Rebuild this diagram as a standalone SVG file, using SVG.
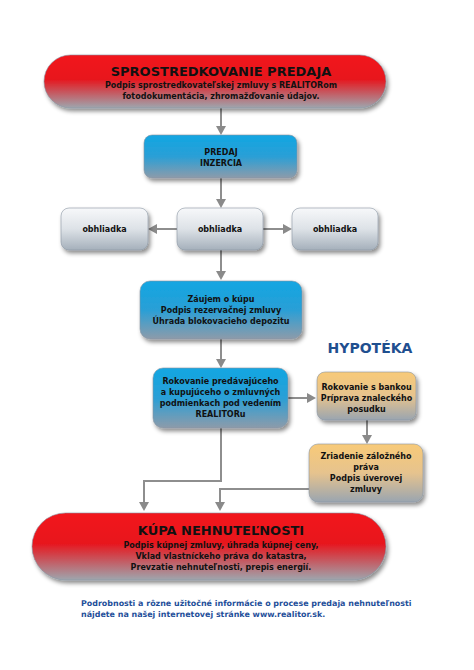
<svg xmlns="http://www.w3.org/2000/svg" width="474" height="670" viewBox="0 0 474 670">
<defs>
<linearGradient id="gRed" x1="0" y1="0" x2="0" y2="1">
<stop offset="0" stop-color="#f2131b"/><stop offset="0.45" stop-color="#e8141c"/><stop offset="1" stop-color="#9ea6ae"/>
</linearGradient>
<linearGradient id="gBlue" x1="0" y1="0" x2="0" y2="1">
<stop offset="0" stop-color="#12a6e2"/><stop offset="0.5" stop-color="#2a9fd6"/><stop offset="1" stop-color="#8d9baa"/>
</linearGradient>
<linearGradient id="gGrey" x1="0" y1="0" x2="0" y2="1">
<stop offset="0" stop-color="#f7f8fa"/><stop offset="0.5" stop-color="#dde2e7"/><stop offset="1" stop-color="#a5b0bb"/>
</linearGradient>
<linearGradient id="gOrange" x1="0" y1="0" x2="0" y2="1">
<stop offset="0" stop-color="#f8ca78"/><stop offset="0.5" stop-color="#e6c38e"/><stop offset="1" stop-color="#9aa5b0"/>
</linearGradient>
<filter id="sh" x="-10%" y="-20%" width="125%" height="150%">
<feDropShadow dx="2" dy="3" stdDeviation="2" flood-color="#000" flood-opacity="0.45"/>
</filter>
<style>
.t{font-family:"DejaVu Sans",Verdana,sans-serif;font-weight:bold;fill:#111;text-anchor:middle}
.s{font-size:8px}
.big{font-size:13px}
.c{fill:none;stroke:#8e8e8e;stroke-width:2}
.ah{fill:#8a8a8a}
.box{stroke:#8a96a2;stroke-width:0.6;filter:url(#sh)}
.ft{font-family:"DejaVu Sans",Verdana,sans-serif;font-weight:bold;fill:#1f4f9a;font-size:7.95px}
</style>
</defs>
<rect width="474" height="670" fill="#fff"/>
<g id="connectors">
<line class="c" x1="221" y1="108" x2="221" y2="127"/>
<path class="ah" d="M216,126 L226,126 L221,135 z"/>
<line class="c" x1="221" y1="178" x2="221" y2="200"/>
<path class="ah" d="M216,199 L226,199 L221,208 z"/>
<line class="c" x1="177" y1="229" x2="156" y2="229"/>
<path class="ah" d="M157,224 L157,234 L148,229 z"/>
<line class="c" x1="263" y1="229" x2="284" y2="229"/>
<path class="ah" d="M283,224 L283,234 L292,229 z"/>
<line class="c" x1="221" y1="250" x2="221" y2="272"/>
<path class="ah" d="M216,271 L226,271 L221,280 z"/>
<line class="c" x1="221" y1="339" x2="221" y2="360"/>
<path class="ah" d="M216,359 L226,359 L221,368 z"/>
<line class="c" x1="288" y1="398" x2="308" y2="398"/>
<path class="ah" d="M307,393 L307,403 L316,398 z"/>
<line class="c" x1="367" y1="420" x2="367" y2="436"/>
<path class="ah" d="M362,435 L372,435 L367,444 z"/>
<polyline class="c" points="221,428 221,481 144,481 144,503"/>
<path class="ah" d="M139,502 L149,502 L144,511 z"/>
<polyline class="c" points="310,489 220,489 220,503"/>
<path class="ah" d="M215,502 L225,502 L220,511 z"/>
</g>
<g id="node-sprostredkovanie">
<rect class="box" x="44" y="55" width="342" height="53" rx="26.5" fill="url(#gRed)"/>
<text class="t big" x="221" y="76">SPROSTREDKOVANIE PREDAJA</text>
<text class="t s" x="221" y="88">Podpis sprostredkovateľskej zmluvy s REALITORom</text>
<text class="t s" x="221" y="99">fotodokumentácia, zhromažďovanie údajov.</text>
</g>
<g id="node-predaj">
<rect class="box" x="144" y="135" width="153" height="43" rx="8" fill="url(#gBlue)"/>
<text class="t s" x="221" y="155">PREDAJ</text>
<text class="t s" x="221" y="166">INZERCIA</text>
</g>
<g id="node-obhliadka-left">
<rect class="box" x="61" y="208" width="87" height="42" rx="8" fill="url(#gGrey)"/>
<text class="t s" x="104.5" y="232">obhliadka</text>
</g>
<g id="node-obhliadka-mid">
<rect class="box" x="177" y="208" width="86" height="42" rx="8" fill="url(#gGrey)"/>
<text class="t s" x="220" y="232">obhliadka</text>
</g>
<g id="node-obhliadka-right">
<rect class="box" x="292" y="208" width="86" height="42" rx="8" fill="url(#gGrey)"/>
<text class="t s" x="335" y="232">obhliadka</text>
</g>
<g id="node-zaujem">
<rect class="box" x="140" y="281" width="162" height="58" rx="10" fill="url(#gBlue)"/>
<text class="t s" x="221" y="302">Záujem o kúpu</text>
<text class="t s" x="221" y="313">Podpis rezervačnej zmluvy</text>
<text class="t s" x="221" y="324">Úhrada blokovacieho depozitu</text>
</g>
<g id="label-hypoteka">
<text x="370" y="353" font-family="'DejaVu Sans',Verdana,sans-serif" font-weight="bold" font-size="14" fill="#1f4f8f" text-anchor="middle">HYPOTÉKA</text>
</g>
<g id="node-rokovanie">
<rect class="box" x="153" y="368" width="135" height="60" rx="10" fill="url(#gBlue)"/>
<text class="t s" x="220.5" y="384">Rokovanie predávajúceho</text>
<text class="t s" x="220.5" y="395">a kupujúceho o zmluvných</text>
<text class="t s" x="220.5" y="406">podmienkach pod vedením</text>
<text class="t s" x="220.5" y="417">REALITORu</text>
</g>
<g id="node-banka">
<rect class="box" x="317" y="372" width="99" height="48" rx="8" fill="url(#gOrange)"/>
<text class="t s" x="366.5" y="390">Rokovanie s bankou</text>
<text class="t s" x="366.5" y="401">Príprava znaleckého</text>
<text class="t s" x="366.5" y="412">posudku</text>
</g>
<g id="node-zriadenie">
<rect class="box" x="309" y="444" width="114" height="58" rx="9" fill="url(#gOrange)"/>
<text class="t s" x="366" y="459">Zriadenie záložného</text>
<text class="t s" x="366" y="470">práva</text>
<text class="t s" x="366" y="481">Podpis úverovej</text>
<text class="t s" x="366" y="492">zmluvy</text>
</g>
<g id="node-kupa">
<rect class="box" x="32" y="513" width="354" height="67" rx="33.5" fill="url(#gRed)"/>
<text class="t big" x="221" y="535">KÚPA NEHNUTEĽNOSTI</text>
<text class="t s" x="221" y="548">Podpis kúpnej zmluvy, úhrada kúpnej ceny,</text>
<text class="t s" x="221" y="559">Vklad vlastníckeho práva do katastra,</text>
<text class="t s" x="221" y="570">Prevzatie nehnuteľnosti, prepis energií.</text>
</g>
<g id="footer">
<text class="ft" x="81" y="606">Podrobnosti a rôzne užitočné informácie o procese predaja nehnuteľnosti</text>
<text class="ft" x="81" y="617">nájdete na našej internetovej stránke www.realitor.sk.</text>
</g>
</svg>
